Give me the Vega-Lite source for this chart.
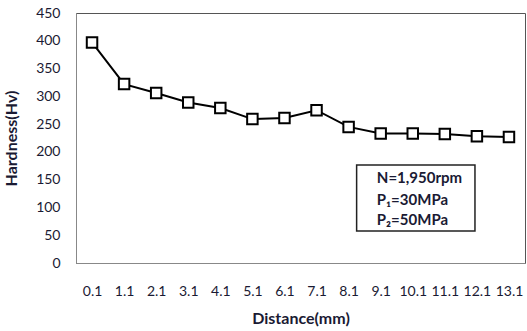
{
  "$schema": "https://vega.github.io/schema/vega-lite/v6.json",
  "width": 449,
  "height": 250,
  "autosize": {"type": "none"},
  "padding": {"left": 76, "top": 13, "right": 2, "bottom": 68},
  "background": "white",
  "config": {
    "view": {"stroke": "#555555", "strokeWidth": 1},
    "font": "Lato",
    "axis": {"grid": false, "ticks": false, "domainColor": "#888888", "labelColor": "#1a1a33", "labelFontSize": 14, "labelFont": "Lato", "titleFont": "Lato", "titleFontSize": 16, "titleFontWeight": "bold", "titleColor": "#1a1a33", "labelOverlap": false}
  },
  "datasets": {
    "hardness": [
      {"distance": 0.1, "hardness": 397},
      {"distance": 1.1, "hardness": 322},
      {"distance": 2.1, "hardness": 306},
      {"distance": 3.1, "hardness": 289},
      {"distance": 4.1, "hardness": 279},
      {"distance": 5.1, "hardness": 259},
      {"distance": 6.1, "hardness": 261},
      {"distance": 7.1, "hardness": 275},
      {"distance": 8.1, "hardness": 245},
      {"distance": 9.1, "hardness": 233},
      {"distance": 10.1, "hardness": 233},
      {"distance": 11.1, "hardness": 232},
      {"distance": 12.1, "hardness": 228},
      {"distance": 13.1, "hardness": 227}
    ],
    "box": [{"x1": 8.35, "x2": 12.04, "y1": 57.6, "y2": 176.4}],
    "notes": [
      {"x": 8.98, "y": 152.4, "label": "N=1,950rpm"},
      {"x": 8.98, "y": 113.4, "label": "P₁=30MPa"},
      {"x": 8.98, "y": 77.4, "label": "P₂=50MPa"}
    ]
  },
  "layer": [
    {
      "data": {"name": "hardness"},
      "mark": {"type": "line", "color": "black", "strokeWidth": 2},
      "encoding": {
        "x": {"field": "distance", "type": "quantitative", "scale": {"domain": [-0.4, 13.6], "nice": false, "zero": false},
          "axis": {"values": [0.1,1.1,2.1,3.1,4.1,5.1,6.1,7.1,8.1,9.1,10.1,11.1,12.1,13.1], "format": ".1f", "title": "Distance(mm)", "labelPadding": 21, "titlePadding": 12, "labelFlush": false, "labelOverlap": false}},
        "y": {"field": "hardness", "type": "quantitative", "scale": {"domain": [0, 450], "nice": false},
          "axis": {"values": [0,50,100,150,200,250,300,350,400,450], "title": "Hardness(Hv)", "labelPadding": 16, "titlePadding": 16, "labelOverlap": false}}
      }
    },
    {
      "data": {"name": "hardness"},
      "mark": {"type": "point", "shape": "square", "filled": true, "fill": "white", "stroke": "black", "strokeWidth": 2, "size": 110, "opacity": 1},
      "encoding": {
        "x": {"field": "distance", "type": "quantitative",
          "axis": {"values": [0.1,1.1,2.1,3.1,4.1,5.1,6.1,7.1,8.1,9.1,10.1,11.1,12.1,13.1], "format": ".1f", "title": "Distance(mm)", "labelPadding": 21, "titlePadding": 12, "labelFlush": false, "labelOverlap": false}},
        "y": {"field": "hardness", "type": "quantitative",
          "axis": {"values": [0,50,100,150,200,250,300,350,400,450], "title": "Hardness(Hv)", "labelPadding": 16, "titlePadding": 16, "labelOverlap": false}}
      }
    },
    {
      "data": {"name": "box"},
      "mark": {"type": "rect", "fill": "white", "stroke": "#222222", "strokeWidth": 1.5},
      "encoding": {
        "x": {"field": "x1", "type": "quantitative",
          "axis": {"values": [0.1,1.1,2.1,3.1,4.1,5.1,6.1,7.1,8.1,9.1,10.1,11.1,12.1,13.1], "format": ".1f", "title": "Distance(mm)", "labelPadding": 21, "titlePadding": 12, "labelFlush": false, "labelOverlap": false}},
        "x2": {"field": "x2"},
        "y": {"field": "y1", "type": "quantitative",
          "axis": {"values": [0,50,100,150,200,250,300,350,400,450], "title": "Hardness(Hv)", "labelPadding": 16, "titlePadding": 16, "labelOverlap": false}},
        "y2": {"field": "y2"}
      }
    },
    {
      "data": {"name": "notes"},
      "mark": {"type": "text", "align": "left", "baseline": "middle", "fontWeight": "bold", "fontSize": 15, "font": "Lato", "color": "#1a1a33"},
      "encoding": {
        "x": {"field": "x", "type": "quantitative",
          "axis": {"values": [0.1,1.1,2.1,3.1,4.1,5.1,6.1,7.1,8.1,9.1,10.1,11.1,12.1,13.1], "format": ".1f", "title": "Distance(mm)", "labelPadding": 21, "titlePadding": 12, "labelFlush": false, "labelOverlap": false}},
        "y": {"field": "y", "type": "quantitative",
          "axis": {"values": [0,50,100,150,200,250,300,350,400,450], "title": "Hardness(Hv)", "labelPadding": 16, "titlePadding": 16, "labelOverlap": false}},
        "text": {"field": "label"}
      }
    }
  ]
}
